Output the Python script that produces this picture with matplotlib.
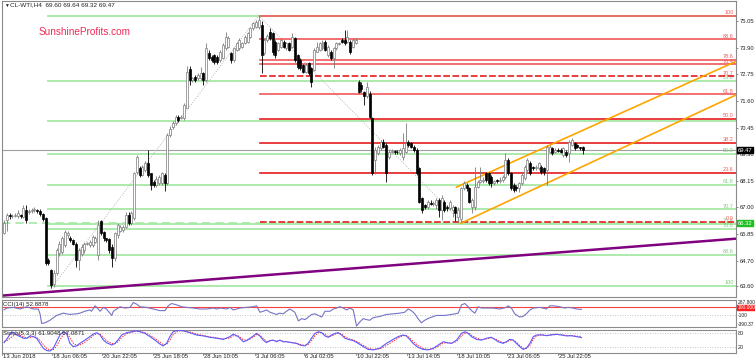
import matplotlib.pyplot as plt
import numpy as np

plt.rcParams['font.family'] = ['Liberation Sans', 'DejaVu Sans']

# H4 candles, CL-WTI, 13 Jun - 26 Jul 2018
opens = [65.88, 66.46, 66.66, 66.62, 66.64, 66.62, 66.66, 66.60, 66.89, 66.80,
         66.85, 66.89, 66.90, 66.85, 66.72, 66.55, 64.72, 64.29, 63.71, 64.15,
         65.01, 65.08, 65.37, 65.80, 65.66, 65.59, 65.44, 64.73, 64.98, 65.15,
         65.42, 65.37, 65.37, 65.52, 64.95, 66.40, 65.95, 65.66, 65.62, 65.30,
         64.80, 65.80, 66.00, 66.03, 66.17, 66.68, 66.31, 66.55, 68.54, 68.69,
         68.40, 68.62, 68.90, 68.47, 68.11, 67.97, 68.04, 68.04, 68.40, 68.04,
         70.13, 70.49, 70.63, 70.92, 70.85, 70.85, 71.30, 73.00, 72.51, 72.65,
         72.58, 72.58, 72.80, 72.51, 73.66, 73.52, 73.60, 73.52, 73.37, 73.44,
         73.88, 73.95, 73.66, 73.37, 73.80, 73.88, 73.95, 74.10, 74.17, 74.38,
         74.74, 74.81, 74.81, 74.89, 73.66, 74.24, 74.60, 74.53, 74.17, 73.81, 73.95,
         74.17, 73.88, 74.09, 73.95, 74.31, 73.59, 73.37, 73.16,
         72.87, 73.23, 73.01, 72.94, 73.73, 73.81, 73.88, 74.17, 73.59, 73.73, 73.44, 73.88,
         74.05,
         74.24, 74.24, 74.17, 74.17, 73.95, 74.09,
         72.44, 72.30, 72.00, 71.80, 71.90, 70.85, 69.05, 69.34, 69.56, 69.84, 69.70, 69.19, 69.41,
         69.45,
         69.41, 69.34, 69.19, 69.41, 69.84, 69.77, 69.63, 69.48, 68.69, 67.39, 67.10, 67.03, 67.20,
         67.15,
         67.10, 67.32, 66.89, 67.25, 67.03, 66.96, 66.89, 67.00, 66.60, 66.50, 67.82, 67.97, 67.82,
         67.03, 67.03, 67.90, 68.11, 68.15, 68.47, 68.47, 68.30,
         68.04,
         68.19, 68.15, 68.19, 68.33, 69.05, 68.47, 67.97, 67.90, 67.82, 68.04, 68.26, 68.62, 68.90,
         68.76, 68.69, 68.69, 68.76, 68.69, 68.62, 69.41, 69.56, 69.41,
         69.48,
         69.48, 69.27, 69.41, 69.34, 69.70, 69.77, 69.70, 69.60, 69.60]

highs = [66.46, 66.75, 66.75, 66.72, 66.75, 66.87, 66.72, 67.10, 67.10, 66.95,
         66.98, 67.00, 66.95, 66.92, 66.78, 66.60, 64.80, 64.35, 64.30, 65.25,
         65.55, 65.75, 66.02, 66.00, 65.75, 65.62, 65.50, 65.25, 65.40, 65.52,
         65.52, 65.60, 65.80, 65.75, 66.46, 66.46, 66.00, 65.70, 65.70, 65.40,
         65.95, 66.32, 66.25, 66.25, 66.80, 66.80, 66.85, 68.55, 69.27, 68.80,
         68.85, 69.00, 69.48, 68.50, 68.18, 68.35, 68.40, 68.55, 68.50, 70.20,
         70.50, 70.75, 71.00, 71.00, 71.00, 71.50, 73.10, 73.10, 72.65, 72.72,
         72.80, 73.05, 72.85, 74.10, 73.80, 73.60, 73.65, 73.60, 73.80, 74.10,
         74.60, 74.40, 73.70, 73.95, 74.15, 74.30, 74.15, 74.45, 74.60, 74.80,
         75.00, 75.10, 75.29, 75.05, 74.31, 74.50, 74.74, 74.60, 74.25, 74.15, 74.30,
         74.22, 74.15, 74.15, 74.53, 74.38, 73.65, 73.45, 73.20,
         73.22, 73.30, 73.08, 73.88, 74.17, 74.15, 74.24, 74.22, 74.02, 73.80, 73.95, 74.15,
         74.15,
         74.30, 74.67, 74.67, 74.25, 74.30, 74.30,
         72.50, 72.40, 72.05, 72.44, 72.05, 70.92, 69.60, 69.70, 69.92, 69.95, 69.77, 69.48, 69.52,
         69.50,
         69.48, 69.55, 70.20, 70.64, 69.92, 69.84, 69.70, 69.56, 68.76, 67.45, 67.15, 67.30, 67.30,
         67.28,
         67.39, 67.40, 67.55, 67.30, 67.10, 67.32, 67.10, 67.05, 67.00, 67.90, 68.15, 68.05, 67.90,
         67.40, 68.76, 68.20, 68.76, 68.30, 68.55, 68.55, 68.40,
         68.20,
         68.25, 68.30, 68.40, 69.34, 69.15, 68.55, 68.05, 67.97, 68.10, 68.47, 68.85, 69.12, 69.00,
         68.80, 68.85, 68.95, 68.85, 68.75, 69.70, 69.70, 69.63, 69.56,
         69.55,
         69.56, 69.63, 69.48, 69.90, 69.99, 69.84, 69.75, 69.63, 69.64]

lows = [65.85, 66.00, 66.50, 66.55, 66.58, 66.55, 66.55, 66.55, 66.31, 66.70,
        66.78, 66.82, 66.78, 66.65, 66.40, 64.50, 64.50, 63.50, 63.55, 64.10,
        64.90, 65.00, 65.30, 65.70, 65.50, 65.38, 64.44, 64.30, 64.90, 65.05,
        65.36, 65.30, 65.30, 65.45, 64.73, 65.80, 65.55, 65.50, 65.05, 64.44,
        64.70, 65.70, 65.95, 65.95, 66.10, 66.25, 66.25, 66.45, 68.45, 68.30,
        68.35, 68.55, 68.30, 67.75, 67.90, 67.90, 67.97, 67.97, 67.70, 67.95,
        70.05, 70.40, 70.55, 70.70, 70.80, 70.78, 71.35, 72.30, 72.40, 72.40,
        72.50, 72.50, 72.30, 72.40, 73.35, 73.30, 73.20, 73.20, 73.30, 73.40,
        73.80, 73.90, 73.25, 73.30, 73.75, 73.80, 73.90, 74.05, 74.10, 74.30,
        74.65, 74.75, 74.70, 72.80, 73.59, 74.15, 74.24, 73.60, 73.45, 73.75, 73.88,
        73.90, 73.80, 73.75, 73.90, 73.30, 73.00, 72.95, 72.80,
        72.80, 72.72, 72.22, 72.90, 73.70, 73.75, 73.80, 73.75, 73.50, 73.38, 73.01, 73.82,
        74.00,
        74.10, 74.02, 74.10, 73.65, 73.90, 74.05,
        71.95, 72.00, 71.43, 71.75, 70.85, 68.40, 68.45, 69.25, 69.50, 69.55, 68.11, 69.10, 69.35,
        69.30,
        69.30, 69.28, 69.05, 69.35, 69.60, 69.55, 69.40, 68.40, 67.20, 66.75, 66.95, 66.95, 67.10,
        67.05,
        66.95, 66.60, 66.46, 66.80, 66.85, 66.90, 66.60, 66.40, 66.38, 66.38, 67.75, 67.70, 67.20,
        66.75, 66.90, 67.85, 68.05, 68.05, 68.10, 67.95, 67.90,
        67.98,
        68.05, 68.05, 68.10, 68.25, 68.40, 67.75, 67.65, 67.70, 67.68, 67.97, 68.20, 68.55, 68.40,
        68.60, 68.62, 68.62, 68.45, 68.40, 67.97, 69.35, 69.28, 69.34,
        69.38,
        69.34, 69.20, 69.20, 68.98, 69.65, 69.50, 69.55, 69.48, 69.32]

closes = [66.31, 66.68, 66.62, 66.64, 66.66, 66.74, 66.62, 66.96, 66.46, 66.85,
          66.89, 66.92, 66.85, 66.72, 66.50, 64.58, 64.58, 63.64, 64.15, 65.15,
          65.44, 65.66, 65.95, 65.88, 65.59, 65.44, 64.73, 65.15, 65.30, 65.44,
          65.46, 65.52, 65.73, 65.66, 66.26, 65.90, 65.66, 65.59, 65.15, 64.80,
          65.88, 66.24, 66.17, 66.17, 66.68, 66.31, 66.75, 68.47, 69.19, 68.40,
          68.76, 68.90, 68.40, 67.97, 67.97, 68.25, 68.33, 68.47, 68.04, 70.13,
          70.41, 70.63, 70.92, 70.78, 70.92, 71.42, 72.87, 72.51, 72.58, 72.51,
          72.72, 72.80, 72.51, 73.88, 73.44, 73.37, 73.30, 73.30, 73.73, 74.02,
          74.38, 74.31, 73.37, 73.88, 74.10, 74.24, 74.10, 74.38, 74.53, 74.74,
          74.96, 75.03, 75.10, 73.59, 74.24, 74.40, 74.31, 73.73, 73.59, 74.09, 74.24,
          73.95, 74.09, 73.81, 74.38, 73.37, 73.08, 73.01, 72.87,
          73.16, 72.80, 72.44, 73.81, 73.95, 74.09, 74.17, 73.81, 73.95, 73.44, 73.88, 74.09,
          74.09,
          74.17, 74.09, 74.38, 73.73, 74.24, 74.24,
          72.00, 72.10, 71.80, 72.20, 70.92, 68.47, 69.48, 69.63, 69.84, 69.63, 68.47, 69.41, 69.45,
          69.40,
          69.38, 69.48, 69.56, 69.77, 69.70, 69.63, 69.48, 68.47, 67.25, 66.89, 67.03, 67.25, 67.15,
          67.20,
          67.32, 66.90, 67.39, 66.89, 66.96, 67.25, 67.03, 66.75, 66.89, 67.82, 68.04, 67.82, 67.25,
          67.32, 67.90, 68.11, 68.19, 68.19, 68.19, 68.05, 68.04,
          68.15,
          68.15, 68.19, 68.33, 69.05, 68.47, 67.82, 67.75, 67.82, 68.04, 68.40, 68.76, 69.05, 68.47,
          68.69, 68.76, 68.90, 68.55, 68.55, 69.63, 69.63, 69.34, 69.48,
          69.45,
          69.41, 69.56, 69.27, 69.84, 69.92, 69.56, 69.63, 69.56, 69.47]

# CCI(14): bar index / value
cci_bars = [0, 1, 3.4, 5.8, 8.2, 10.6, 12.4, 13, 13.6, 14.8, 16.6, 19, 21.4, 23.8, 26.2, 27.4,
            29.2, 31, 31.6, 32.9, 33.5, 34.7, 35.9, 37, 38.9, 39.5, 40.7, 41.9, 43.7, 45.5,
            46.7, 47.9, 49.1, 51.5, 53.9, 56.3, 58.1, 59.3, 60.5, 62.3, 64.1, 65.9, 68.4, 70.8,
            73.2, 75.6, 76.8, 78, 80.4, 81.6, 82.8, 85.2, 87.6, 90, 91.2, 92.4, 93.6, 94.8, 96,
            98.4, 99.6, 100.8, 102, 103.2, 105, 106.3, 107.5, 108.7, 109.9, 111.1, 112.3, 113.5,
            114.7, 115.9, 117.7, 118.9, 120.1, 121.3, 122.5, 123.7, 124.9, 126.1, 127.3, 128.5,
            129.7, 130.9, 132.1, 133.3, 135.7, 138.1, 140.5, 142.9, 144.7, 145.9, 147.1, 148.3,
            149.5, 150.7, 151.9, 153.8, 156.2, 159.2, 161.6, 164, 165.2, 166.4, 167.6, 168.8,
            170, 171.2, 172.4, 174.2, 176.6, 179, 181.4, 182, 183.2, 184.4, 186.2, 187.4, 188.6,
            189.9, 191.1, 193.5, 195.9, 197.1, 198.3, 200.7, 202.5, 203.7, 205.5, 206.7, 208.5]
cci_vals = [40, 86, 102, 62, 118, 62, 62, -59, -301, -285, -221, -100, -43, -75, -59, -43,
            5, 38, 5, 142, 102, 5, 102, 62, -100, 5, 62, 118, 86, 102,
            223, 183, 118, 102, 62, 21, 21, 142, 199, 167, 118, 102, 86, 62,
            62, 86, 62, 86, 62, 102, 38, 86, 102, 118, 142, -19, 5, 38, -19,
            -75, -43, -59, 5, 62, -19, -237, -180, -205, -140, -75, -59, -100,
            -140, 5, 5, 62, 86, 118, 86, 38, 86, 38, -366, -261,
            -180, -205, -221, -156, -124, -75, -59, -43, -19, 62, 21, -59,
            -180, -285, -221, -156, -100, -100, -75, -43, 167, 199, 118, 21,
            -43, 118, 86, 86, 86, 62, 102, 142, 86, -59, -140, -124, -59,
            38, 86, 102, 62, 142, 142, 118, 86, 102, 86, 62, 53]

# Stochastic(5,3,3): main (%K) and signal (%D)
stoch_bars = [0, 1, 2.8, 4.6, 5.8, 7, 8.2, 9.4, 10.6, 11.8, 13, 14.2, 15.4, 16.6, 17.8, 19,
              20.2, 21.4, 22.6, 23.8, 25, 26.2, 27.4, 29.2, 31, 32.2, 33.5, 34.7, 35.9, 37,
              38.9, 40.1, 41.3, 42.5, 44.3, 46.1, 47.9, 49.1, 50.9, 52.7, 54.5, 56.3, 57.5,
              58.7, 59.9, 61.1, 62.9, 64.7, 67.1, 69.5, 72, 74.4, 76.8, 79.2, 81.6, 82.8, 84.6,
              86.4, 87.6, 88.8, 90, 91.2, 92.4, 93.6, 94.8, 96, 97.2, 98.4, 99.6, 100.8, 102,
              103.8, 105.6, 106.8, 108.6, 109.8, 111, 112.3, 113.5, 114.7, 115.9, 117.1, 118.3,
              119.5, 120.7, 121.9, 123.1, 124.3, 126.1, 127.9, 129.7, 131.5, 133.3, 135.7, 138.1,
              140.5, 142.3, 144.1, 145.3, 146.5, 147.7, 149.5, 151.3, 153.2, 155, 156.8, 158.6,
              159.8, 161.6, 163.4, 165.2, 166.4, 167.6, 168.8, 170.6, 172.4, 174.2, 176, 177.2,
              178.4, 180.2, 181.4, 182.6, 183.8, 185, 186.2, 187.4, 188.6, 189.9, 191.1, 192.3,
              194.1, 195.9, 197.7, 199.5, 201.3, 203.1, 204.9, 206.7, 208.5]
stoch_k = [40, 55, 87, 73, 66, 59, 59, 69, 66, 59, 37, 16, 6, 4, 16, 44,
           73, 87, 80, 37, 23, 26, 37, 51, 66, 77, 83, 73, 51, 40,
           30, 37, 54, 73, 83, 87, 91, 87, 80, 66, 51, 34, 26,
           37, 66, 87, 94, 91, 83, 73, 69, 63, 59, 54, 66, 77, 66,
           44, 49, 59, 69, 80, 69, 51, 40, 49, 51, 44, 51, 44, 44,
           40, 37, 30, 26, 37, 59, 80, 87, 83, 69, 63, 73,
           80, 83, 73, 59, 54, 49, 37, 23, 11, 9, 16, 37,
           54, 66, 73, 69, 54, 37, 20, 11, 9, 16, 30, 44,
           40, 37, 51, 80, 87, 80, 66, 54, 51, 59, 63, 54,
           44, 37, 44, 54, 51, 37, 23, 11, 16, 37, 66, 73,
           74, 70, 74, 76, 73, 69, 70, 66, 62]
stoch_d = [45, 48, 65, 78, 72, 65, 60, 62, 66, 63, 50, 32, 15, 8, 10, 25,
           52, 75, 83, 62, 38, 28, 30, 42, 57, 70, 79, 77, 62, 48,
           36, 35, 45, 62, 78, 85, 89, 88, 83, 72, 58, 42, 32,
           32, 50, 75, 90, 91, 86, 77, 71, 65, 61, 56, 60, 70, 69,
           53, 50, 55, 64, 75, 72, 58, 46, 47, 50, 47, 49, 46, 44,
           41, 38, 33, 28, 32, 48, 70, 83, 84, 75, 67, 69,
           76, 81, 77, 66, 58, 52, 42, 29, 16, 11, 13, 28,
           46, 60, 70, 70, 61, 45, 28, 15, 11, 13, 24, 38,
           40, 38, 45, 68, 82, 83, 72, 60, 53, 56, 61, 57,
           49, 40, 42, 50, 52, 42, 28, 16, 15, 28, 55, 69,
           73, 71, 73, 75, 74, 71, 70, 68, 67]

price_ticks = [75.05, 73.90, 72.75, 71.60, 70.45, 69.30, 68.15, 67.00, 65.85, 64.70, 63.60]
date_labels = ['13 Jun 2018', '18 Jun 06:05', '20 Jun 22:05', '25 Jun 18:05', '28 Jun 10:05',
               '3 Jul 06:05', '6 Jul 02:05', '10 Jul 22:05', '13 Jul 14:05', '18 Jul 10:05',
               '23 Jul 06:05', '25 Jul 22:05']
date_bars = [-0.9, 17.2, 35.4, 53.8, 71.8, 90.5, 108.3, 127.1, 145.4, 163.5, 181.6, 200.0]

# Fibonacci retracement of the 3 Jul high -> 18 Jul low (red)
red_fib_names = ['100', '88.6', '78.6', '76.4', '70.7', '61.8', '50.0', '38.2', '23.6', '0.0']
red_fib_prices = [75.29, 74.26, 73.37, 73.18, 72.67, 71.88, 70.83, 69.78, 68.49, 66.38]
# Fibonacci retracement of the 18 Jun low -> 3 Jul high (green)
green_fib_names = ['0.0', '23.6', '38.2', '50.0', '61.8', '70.7', '76.4', '78.6', '88.6', '100']
green_fib_prices = [75.29, 72.46, 70.73, 69.31, 67.97, 66.92, 66.28, 66.08, 64.95, 63.61]

last_price = 69.47
support_price = 66.34

fig = plt.figure(figsize=(7.55, 3.63), dpi=100)
W, H = 755.0, 363.0
xmin, xmax = -0.72, 264.3

ax = fig.add_axes([2 / W, 1 - 297 / H, 734 / W, 296 / H])
ax_cci = fig.add_axes([2 / W, 1 - 327 / H, 734 / W, 27 / H])
ax_st = fig.add_axes([2 / W, 1 - 353 / H, 734 / W, 23 / H])

for a in (ax, ax_cci, ax_st):
    a.set_xlim(xmin, xmax)
    for s in a.spines.values():
        s.set_color('#8a8a8a')
        s.set_linewidth(0.8)
    a.set_xticks([])
    a.yaxis.tick_right()
    a.tick_params(axis='y', length=1.5, width=0.5, color='#606060', pad=1.0,
                  labelsize=4.2, labelcolor='#222222')

# ---- main price panel ----
ax.set_ylim(63.13, 75.92)
ax.set_yticks(price_ticks)
ax.set_yticklabels(['%.2f' % p for p in price_ticks])

# green fib
for name, p in zip(green_fib_names, green_fib_prices):
    ax.plot([16, xmax], [p, p], color='#a6e8a6', lw=1.3, zorder=1)
    if name != '0.0' and name != '38.2':
        ax.text(xmax - 0.8, p + 0.03, name, color='#7fcf7f', fontsize=4.0,
                ha='right', va='bottom', zorder=2)
ax.plot([xmin, xmax], [support_price, support_price], color='#a6e8a6', lw=1.2,
        ls=(0, (5, 3)), zorder=1)

# red fib
for name, p in zip(red_fib_names, red_fib_prices):
    ls = (0, (4, 1.5)) if name in ('70.7', '0.0') else '-'
    col = '#e51c1c' if name in ('70.7', '0.0', '50.0', '38.2', '23.6') else '#f05858'
    ax.plot([92.6, xmax], [p, p], color=col, lw=1.2, ls=ls, zorder=2)
    ax.text(xmax - 0.8, p + 0.03, name, color='#f06060', fontsize=4.0,
            ha='right', va='bottom', zorder=3)

# current price line
ax.axhline(last_price, color='#a0a0a0', lw=0.8, zorder=1)

# fib base lines (dotted)
ax.plot([17, 92, 165], [63.50, 75.29, 66.38], color='#b8b8b8', lw=0.7,
        ls=(0, (1, 1.5)), zorder=1)

# purple trend line
ax.plot([xmin, xmax], [63.19, 65.65], color='#800080', lw=1.8, zorder=2,
        solid_capstyle='butt')

# rising channel
ax.plot([163.4, xmax], [67.88, 73.31], color='#ffa500', lw=1.2, zorder=2)
ax.plot([165.0, xmax], [66.32, 71.86], color='#ffa500', lw=1.2, zorder=2)

# candles
o = np.array(opens)
h = np.array(highs)
l = np.array(lows)
c = np.array(closes)
x = np.arange(len(c))
up = c >= o
wick_col = np.where(up, '#7a7a7a', '#000000')
ax.vlines(x, l, h, colors=wick_col, lw=0.6, zorder=4)
bottom = np.minimum(o, c)
height = np.maximum(np.abs(c - o), 0.025)
ax.bar(x[up], height[up], bottom=bottom[up], width=0.72, facecolor='white',
       edgecolor='#7a7a7a', linewidth=0.5, zorder=5)
ax.bar(x[~up], height[~up], bottom=bottom[~up], width=0.72, facecolor='black',
       edgecolor='black', linewidth=0.5, zorder=5)

# axis price boxes
ytr = ax.get_yaxis_transform()
ax.text(1.002, last_price, '%.2f' % last_price, transform=ytr, fontsize=4.2,
        color='white', va='center', ha='left', zorder=10,
        bbox=dict(facecolor='black', edgecolor='black', pad=0.5))
ax.text(1.002, support_price - 0.02, '66.32', transform=ytr, fontsize=4.2,
        color='white', va='center', ha='left', zorder=10,
        bbox=dict(facecolor='#1fbf1f', edgecolor='#1fbf1f', pad=0.5))

# header and watermark
ax.text(0.003, 0.992, '\u25bc', transform=ax.transAxes, fontsize=3.5,
        va='top', ha='left', color='#202020')
ax.text(0.011, 0.994, 'CL-WTI,H4  69.60 69.64 69.32 69.47', transform=ax.transAxes,
        fontsize=4.6, va='top', ha='left', color='#202020')
ax.text(37 / 734, 1 - 31 / 296, 'SunshineProfits.com', transform=ax.transAxes,
        fontsize=7.2, color='#ee2a55', va='center', ha='left')

# ---- CCI panel ----
ax_cci.set_ylim(-390.37, 287.8)
ax_cci.set_yticks([])
ax_cci.axhline(100, color='#ff4040', lw=0.8, zorder=1)
ax_cci.axhline(-100, color='#b0b0b0', lw=0.6, ls=(0, (1, 2)), zorder=1)
ax_cci.plot(cci_bars, cci_vals, color='#7474c4', lw=0.8, zorder=3)
ax_cci.text(0.002, 0.93, 'CCI(14) 52.8878', transform=ax_cci.transAxes,
            fontsize=4.4, va='top', ha='left', color='#202020')
ctr = ax_cci.get_yaxis_transform()
ax_cci.text(1.002, 287.8, '287.800', transform=ctr, fontsize=3.5, va='top',
            ha='left', color='#222222')
ax_cci.text(1.002, 100, '100.000', transform=ctr, fontsize=3.5, va='center',
            ha='left', color='white', zorder=10,
            bbox=dict(facecolor='#ff2020', edgecolor='#ff2020', pad=0.3))
ax_cci.text(1.002, -100, '-100', transform=ctr, fontsize=3.5, va='center',
            ha='left', color='#222222')
ax_cci.text(1.002, -390.37, '-390.37', transform=ctr, fontsize=3.5, va='bottom',
            ha='left', color='#222222')

# ---- Stochastic panel ----
ax_st.set_ylim(-4.5, 94.5)
ax_st.set_yticks([])
ax_st.axhline(80, color='#b0b0b0', lw=0.6, ls=(0, (1, 2)), zorder=1)
ax_st.axhline(20, color='#b0b0b0', lw=0.6, ls=(0, (1, 2)), zorder=1)
ax_st.plot(stoch_bars, stoch_d, color='#ff3030', lw=0.7, ls=(0, (1.5, 1.2)), zorder=2)
ax_st.plot(stoch_bars, stoch_k, color='#5a5aff', lw=0.8, zorder=3)
ax_st.text(0.002, 0.97, 'Stoch(5,3,3) 61.9048 67.0871', transform=ax_st.transAxes,
           fontsize=4.4, va='top', ha='left', color='#202020')
str_ = ax_st.get_yaxis_transform()
ax_st.text(1.002, 80, '80', transform=str_, fontsize=3.9, va='center', ha='left',
           color='#222222')
ax_st.text(1.002, 20, '20', transform=str_, fontsize=3.9, va='center', ha='left',
           color='#222222')

# date labels under the bottom panel
xtr = ax_st.get_xaxis_transform()
for b, lab in zip(date_bars, date_labels):
    ax_st.plot([b, b], [0, -0.1], transform=xtr, color='#606060', lw=0.5,
               clip_on=False)
    ax_st.text(b + 0.4, -0.06, lab, transform=xtr, fontsize=4.2, va='top',
               ha='left', color='#222222', clip_on=False)

fig.savefig('out.png', dpi=100, facecolor='white')
